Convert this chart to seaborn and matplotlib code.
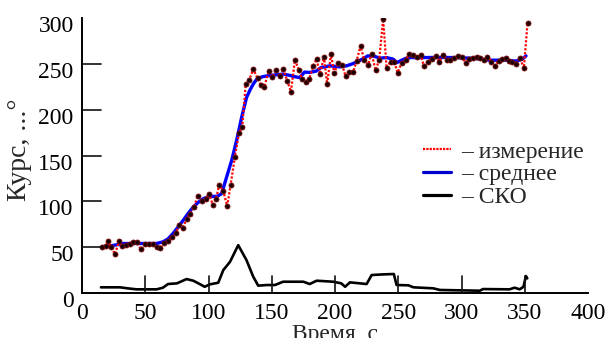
import matplotlib
matplotlib.use("Agg")
import matplotlib.pyplot as plt
import matplotlib.transforms as mtransforms
from matplotlib.lines import Line2D
import seaborn as sns
import numpy as np

# ---- data ----
meas_t = [16.0, 18.7, 20.8, 22.9, 26.1, 29.2, 31.8, 34.5, 37.9, 40.5, 43.2, 46.6, 49.8,
          52.9, 55.9, 59.0, 61.6, 64.8, 68.2, 71.4, 74.3, 76.9, 79.6, 82.7, 85.3, 88.5,
          91.4, 94.6, 97.7, 100.4, 103.3, 105.9, 108.5, 111.7, 114.8, 117.5, 120.9, 124.1,
          126.7, 129.4, 132.2, 135.4, 138.8, 141.4, 144.1, 147.5, 150.4, 153.3, 156.5,
          159.1, 162.2, 165.2, 168.3, 171.5, 174.1, 176.8, 179.6, 182.8, 185.4, 188.1,
          191.3, 193.8, 196.8, 199.4, 202.5, 205.7, 208.4, 211.2, 214.4, 217.1, 220.2,
          223.1, 226.2, 228.9, 232.1, 234.9, 238.1, 240.8, 243.9, 246.8, 249.5, 252.6,
          255.8, 258.4, 261.3, 264.5, 267.6, 270.3, 273.2, 276.4, 279.5, 282.4, 285.5,
          288.2, 291.3, 294.2, 297.4, 300.0, 303.2, 306.0, 309.2, 312.4, 315.0, 317.9,
          320.5, 323.7, 326.3, 329.5, 332.1, 335.0, 337.7, 340.3, 343.0, 346.1, 349.3, 352.2]
meas_v = [50.3, 51.4, 56.5, 50.3, 42.4, 56.5, 50.8, 52.9, 54.0, 55.1, 55.8, 47.5, 54.0,
          54.0, 54.0, 50.3, 48.6, 54.7, 56.5, 61.2, 65.5, 74.7, 71.0, 80.4, 86.6, 93.8,
          105.8, 100.0, 102.2, 108.4, 96.4, 102.2, 118.0, 111.2, 94.9, 118.2, 148.9, 174.2,
          181.5, 227.9, 232.6, 244.2, 234.0, 227.0, 224.5, 242.0, 235.1, 243.5, 236.2,
          244.9, 231.5, 219.6, 254.3, 243.1, 233.4, 229.7, 233.4, 247.8, 255.1, 238.8,
          257.6, 227.9, 260.5, 240.1, 250.9, 249.0, 236.2, 241.6, 241.3, 253.3, 269.6,
          254.0, 248.9, 261.2, 243.1, 254.3, 298.6, 245.3, 252.5, 252.5, 240.5, 250.8,
          254.3, 260.5, 259.7, 257.9, 259.7, 247.8, 252.5, 255.1, 258.7, 252.5, 259.7,
          254.0, 254.3, 256.8, 258.7, 257.9, 251.4, 255.1, 256.8, 257.6, 256.2, 254.3,
          257.9, 252.5, 247.8, 253.3, 255.1, 256.2, 253.3, 252.5, 249.6, 256.8, 245.3, 294.9]

mean_t = [16, 25, 33, 45, 59, 64, 68, 72, 76, 80, 84, 88, 92, 96, 100, 104, 107, 110.4,
          114.3, 118.3, 122.2, 126.2, 130.1, 133, 135.4, 138, 140.7, 143, 147, 153, 159,
          164, 168, 172, 176, 180, 185, 189, 196, 204, 209, 213, 218, 222, 226, 231.5,
          235.5, 240.8, 246, 249, 252, 256, 260, 270, 280, 296, 310, 322, 335, 343, 348, 351]
mean_v = [50.5, 52, 54, 54, 54, 55.8, 59, 65, 72, 79.3, 87, 93.8, 99, 103, 105, 105.4,
          105.5, 108.4, 126.4, 144.6, 166.3, 191.6, 213.4, 222, 228, 233, 235, 236, 237,
          238, 238.8, 237.5, 236, 235, 241, 240.6, 242, 246, 247.8, 246.7, 247.8, 249.6,
          252.5, 255.5, 258.7, 258, 256.2, 256.8, 255.1, 251.4, 253.5, 256, 256.8, 256.8,
          257, 256.8, 256, 254, 254, 253, 255, 258.7]

sko_t = [15, 30, 36.6, 43, 59, 64, 68, 75, 82.7, 88, 93, 97, 101, 107.7, 111.7, 117,
         123.5, 130, 135.4, 139.3, 146, 152.5, 159, 175, 180, 185.5, 198.6, 205, 208,
         211.8, 225, 229, 238, 246.5, 248.7, 258, 262, 277.6, 283, 314.5, 317, 338, 342,
         346, 349, 350.9, 352]
sko_v = [6.2, 6.2, 5, 4, 4, 5.8, 9.8, 10.5, 15.2, 13.4, 9.8, 6.8, 9.4, 11.2, 25, 34,
         52.2, 35.9, 17.7, 8, 8.7, 8.7, 12.3, 12.3, 9.8, 13.4, 12.3, 10.5, 6.8, 11.6, 9.8,
         19.6, 20.3, 20.7, 8.7, 8.4, 6.2, 5.1, 3.3, 2.5, 4.3, 4, 5.8, 4, 6.8, 18.5, 16]

x_ticks = [0, 50, 100, 150, 200, 250, 300, 350, 400]
y_ticks = [0, 50, 100, 150, 200, 250, 300]
legend_labels = ["– измерение", "– среднее", "– СКО"]
x_label = "Время, с"
y_label = "Курс, ...°"

# ---- style ----
sns.set_style("white")
plt.rcParams['font.family'] = ['Liberation Serif', 'DejaVu Serif']
FS = 17
plt.rcParams['font.size'] = FS

fig = plt.figure(figsize=(6.09, 3.38), dpi=100)
ax = fig.add_axes([82 / 609, 1 - 293 / 338, 506 / 609, 275 / 338])

RED = '#ff0000'
BLUE = '#0000ff'
TICKC = '#111111'

sns.lineplot(x=sko_t, y=sko_v, ax=ax, color='black', linewidth=1.9, sort=False)
sns.lineplot(x=mean_t, y=mean_v, ax=ax, color=BLUE, linewidth=2.4, sort=False)
sns.lineplot(x=meas_t, y=meas_v, ax=ax, color=RED, linewidth=1.6, linestyle=(0, (1, 0.8)),
             marker='o', markersize=3.6, markerfacecolor='#1a0000',
             markeredgecolor='#7a1010', markeredgewidth=0.6, sort=False)

ax.set_xlim(0, 400)
ax.set_ylim(0, 300)

# inner tick marks (Mathcad style), drawn along the axes
for xv in x_ticks[1:-1]:
    ax.axvline(xv, ymin=0, ymax=17 / 275, color=TICKC, linewidth=1.2, zorder=4)
for yv in y_ticks[1:-1]:
    ax.axhline(yv, xmin=0, xmax=19 / 506, color=TICKC, linewidth=1.2, zorder=4)

for s in ['top', 'right']:
    ax.spines[s].set_visible(False)
for s in ['left', 'bottom']:
    ax.spines[s].set_color('black')
    ax.spines[s].set_linewidth(1.4)

ax.set_xticks(x_ticks)
ax.set_yticks(y_ticks)
ax.set_xticklabels([str(v) for v in x_ticks])
ax.set_yticklabels([str(v) for v in y_ticks])
ax.tick_params(axis='both', which='both', length=0, labelsize=FS, labelcolor='black')
ax.tick_params(axis='x', which='major', pad=7)
ax.tick_params(axis='y', which='major', pad=6)

off = mtransforms.ScaledTranslation(0, -6 / 100, fig.dpi_scale_trans)
for lab in ax.get_yticklabels():
    lab.set_transform(lab.get_transform() + off)

ax.set_xlabel(x_label, fontsize=FS, labelpad=0)
ax.set_ylabel(y_label, fontsize=FS + 3, va='center')
ax.yaxis.set_label_coords(-62 / 506, 0.52)

handles = [Line2D([], [], color=RED, lw=1.6, linestyle=(0, (1, 0.5))),
           Line2D([], [], color='#0000cc', lw=2.3),
           Line2D([], [], color='black', lw=2.3)]
ax.legend(handles, legend_labels, loc='upper left',
          bbox_to_anchor=((423 - 82) / 506, (293 - 141) / 275),
          frameon=False, fontsize=FS, handlelength=1.2, handletextpad=0.42,
          labelspacing=0.05, borderpad=0, borderaxespad=0)

fig.savefig("out.png", dpi=100)
